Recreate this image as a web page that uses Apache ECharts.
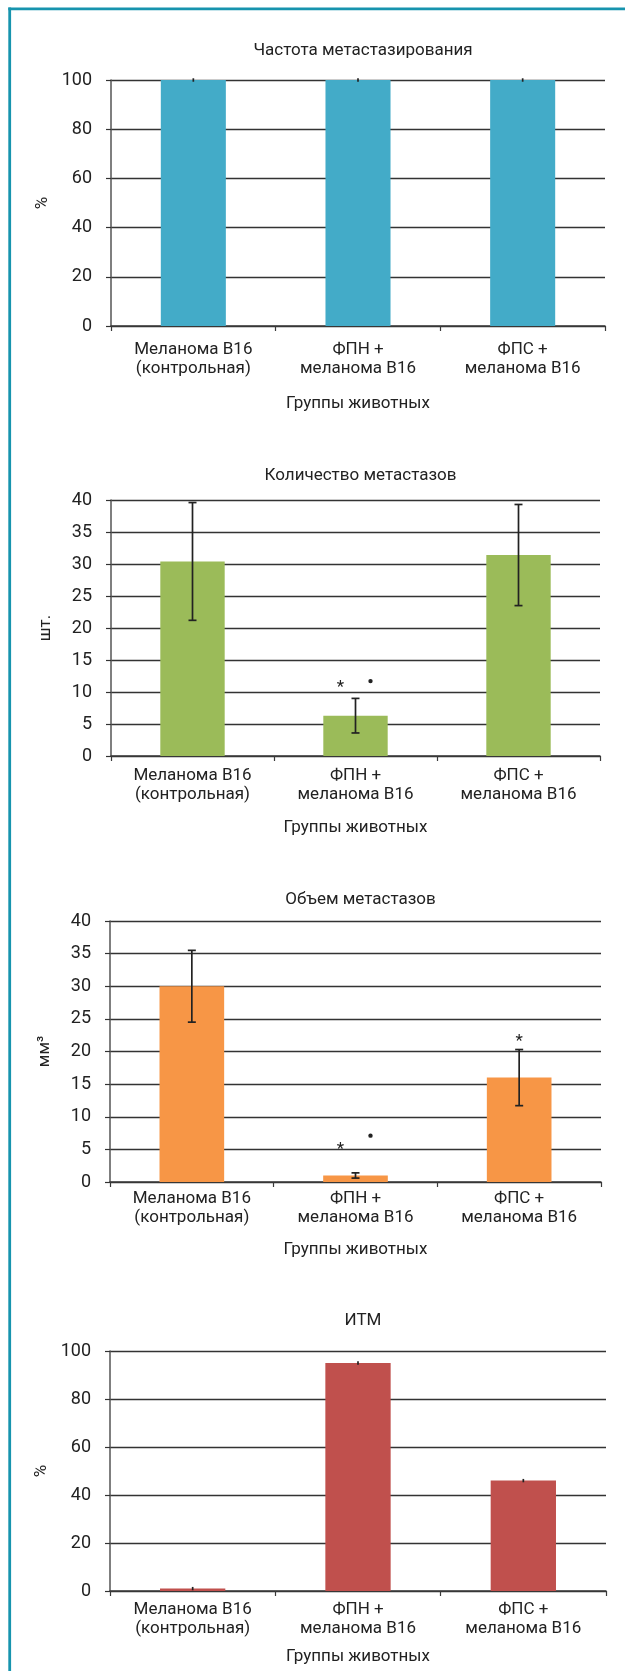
<!DOCTYPE html>
<html>
<head>
<meta charset="utf-8">
<script src="https://cdn.jsdelivr.net/npm/echarts@6/dist/echarts.min.js"></script>
<style>
  html, body { margin: 0; padding: 0; background: #fff; }
  #chart { width: 625px; height: 1671px; }
</style>
</head>
<body>
<div id="chart"></div>
<script>
// Group labels shared by all four panels
const categories = ['Меланома В16\n(контрольная)', 'ФПН +\nмеланома В16', 'ФПС +\nмеланома В16'];
const xAxisName = 'Группы животных';

// Panel 1: metastasis frequency, %
const freqTitle = 'Частота метастазирования';
const freqValues = [100, 100, 100];
const freqErr = [0.7, 0.7, 0.7];

// Panel 2: number of metastases, pcs.
const countTitle = 'Количество метастазов';
const countValues = [30.4, 6.3, 31.4];
const countErr = [9.2, 2.7, 7.9];
// significance marks: [category index, y value, glyph, side (-1 left, 0 centre, 1 right)]
const countMarks = [[1, 11.2, '*', -1], [1, 11.7, '•', 1]];

// Panel 3: metastasis volume, mm³
const volTitle = 'Объем метастазов';
const volValues = [30, 1.0, 16];
const volErr = [5.5, 0.4, 4.3];
const volMarks = [[1, 5.4, '*', -1], [1, 7.1, '•', 1], [2, 22.0, '*', 0]];

// Panel 4: metastasis inhibition index, %
const itmTitle = 'ИТМ';
const itmValues = [1, 95, 46];
const itmErr = [0.7, 0.7, 0.7];

const FONT = 'Roboto, "Noto Sans", sans-serif';
const TEXT = '#222';

const panels = [
  { title: freqTitle, values: freqValues, err: freqErr, marks: [], color: '#43abc8', caps: false,
    yName: '%', yMax: 100, yStep: 20,
    grid: { left: 111, right: 20, top: 80, height: 246 }, titleTop: 37, labelMargin: 14, nameGap: 69 },
  { title: countTitle, values: countValues, err: countErr, marks: countMarks, color: '#9bbb59', caps: true,
    yName: 'шт.', yMax: 40, yStep: 5,
    grid: { left: 111, right: 25, top: 500, height: 256 }, titleTop: 462, labelMargin: 10, nameGap: 63 },
  { title: volTitle, values: volValues, err: volErr, marks: volMarks, color: '#f79646', caps: true,
    yName: 'мм³', yMax: 40, yStep: 5,
    grid: { left: 110, right: 24, top: 921, height: 261 }, titleTop: 886, labelMargin: 7, nameGap: 59 },
  { title: itmTitle, values: itmValues, err: itmErr, marks: [], color: '#c0504d', caps: false,
    yName: '%', yMax: 100, yStep: 20,
    grid: { left: 110, right: 19, top: 1351, height: 240 }, titleTop: 1307, labelMargin: 9, nameGap: 57 }
];

const option = {
  animation: false,
  backgroundColor: '#fff',
  textStyle: { fontFamily: FONT },
  title: [], grid: [], xAxis: [], yAxis: [], series: [],
  graphic: [
    // frame lines along the left and top edges
    { type: 'line', shape: { x1: 9.7, y1: 7.5, x2: 9.7, y2: 1671 },
      style: { stroke: '#1794ae', lineWidth: 2.8 } },
    { type: 'line', shape: { x1: 8.3, y1: 8.8, x2: 625, y2: 8.8 },
      style: { stroke: '#1794ae', lineWidth: 2.8 } }
  ]
};

panels.forEach((p, i) => {
  const plotCenter = p.grid.left + (625 - p.grid.left - p.grid.right) / 2;
  option.title.push({
    text: p.title, left: plotCenter, top: p.titleTop, textAlign: 'center',
    textStyle: { fontFamily: FONT, fontSize: 17, fontWeight: 'normal', color: TEXT }
  });
  option.grid.push(Object.assign({ containLabel: false }, p.grid));
  option.xAxis.push({
    type: 'category', gridIndex: i, data: categories,
    name: xAxisName, nameLocation: 'middle', nameGap: p.nameGap,
    nameTextStyle: { fontFamily: FONT, fontSize: 17, color: TEXT },
    axisLine: { lineStyle: { color: '#3a3a3a', width: 1.5 } },
    axisTick: { show: true, length: 5, lineStyle: { color: '#3a3a3a', width: 1.2 } },
    axisLabel: { margin: p.labelMargin, fontFamily: FONT, fontSize: 17, lineHeight: 19, color: TEXT, interval: 0 },
    splitLine: { show: false }
  });
  option.yAxis.push({
    type: 'value', gridIndex: i, min: 0, max: p.yMax, interval: p.yStep,
    name: p.yName, nameLocation: 'middle', nameGap: 57, nameRotate: 90,
    nameTextStyle: { fontFamily: FONT, fontSize: 17, color: TEXT },
    axisLine: { show: true, lineStyle: { color: '#555', width: 1.5 } },
    axisTick: { show: true, length: 5, lineStyle: { color: '#333', width: 1.2 } },
    axisLabel: { margin: 19, fontFamily: FONT, fontSize: 18, color: TEXT },
    splitLine: { show: true, lineStyle: { color: '#333', width: 1.3 } }
  });
  option.series.push({
    type: 'bar', xAxisIndex: i, yAxisIndex: i, data: p.values,
    barWidth: '39.5%', itemStyle: { color: p.color }, z: 2
  });
  // error bars: value ± err, capped on the count and volume panels
  option.series.push({
    type: 'custom', xAxisIndex: i, yAxisIndex: i, z: 5,
    data: p.values.map((v, k) => [k, v - p.err[k], v + p.err[k]]),
    renderItem: (params, api) => {
      const lo = api.coord([api.value(0), api.value(1)]);
      const hi = api.coord([api.value(0), api.value(2)]);
      const cap = p.caps ? 4 : 0;
      const st = { stroke: '#222', lineWidth: 1.7 };
      return { type: 'group', children: [
        { type: 'line', shape: { x1: hi[0], y1: hi[1], x2: lo[0], y2: lo[1] }, style: st },
        { type: 'line', shape: { x1: hi[0] - cap, y1: hi[1], x2: hi[0] + cap, y2: hi[1] }, style: st },
        { type: 'line', shape: { x1: lo[0] - cap, y1: lo[1], x2: lo[0] + cap, y2: lo[1] }, style: st }
      ] };
    }
  });
  if (p.marks.length) {
    option.series.push({
      type: 'custom', xAxisIndex: i, yAxisIndex: i, z: 6,
      data: p.marks,
      renderItem: (params, api) => {
        const m = p.marks[params.dataIndex];
        const pt = api.coord([m[0], m[1]]);
        const x = pt[0] + m[3] * 15;
        if (m[2] === '•') {
          return { type: 'circle', shape: { cx: x, cy: pt[1], r: 2.2 }, style: { fill: '#222' } };
        }
        return { type: 'text', x: x, y: pt[1] + 3,
          style: { text: m[2], fontFamily: FONT, fontSize: 17,
                   fill: '#222', align: 'center', verticalAlign: 'middle' } };
      }
    });
  }
});

const chart = echarts.init(document.getElementById('chart'), null, { renderer: 'canvas' });
chart.setOption(option);
</script>
</body>
</html>
